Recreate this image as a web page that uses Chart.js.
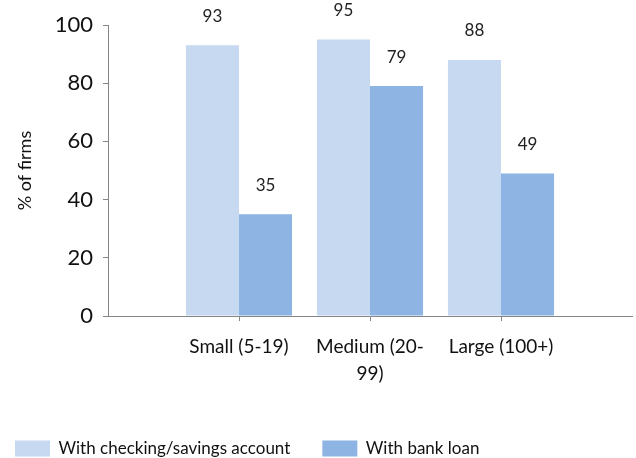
<!DOCTYPE html>
<html>
<head>
<meta charset="utf-8">
<script src="https://cdn.jsdelivr.net/npm/chart.js@4.4.1/dist/chart.umd.min.js"></script>
<style>
  html, body { margin: 0; padding: 0; background: #fff; }
</style>
</head>
<body>
<canvas id="chart" width="636" height="458"></canvas>
<script>
const categories = ["Small (5-19)", ["Medium (20-", "99)"], "Large (100+)"];
const checkingValues = [93, 95, 88];
const loanValues = [35, 79, 49];
const seriesNames = ["With checking/savings account", "With bank loan"];

const FONT = "Lato, 'Open Sans', sans-serif";
const AXIS = "#868686";

// empty slot on each side so the groups sit on the x grid positions
const pad = (arr) => [null, ...arr, null];

const valueLabels = {
  id: "valueLabels",
  afterDatasetsDraw(chart) {
    const ctx = chart.ctx;
    ctx.save();
    ctx.font = "17px " + FONT;
    ctx.fillStyle = "#222";
    ctx.textAlign = "center";
    ctx.textBaseline = "middle";
    chart.data.datasets.forEach((ds, i) => {
      chart.getDatasetMeta(i).data.forEach((bar, j) => {
        const v = ds.data[j];
        if (v == null) return;
        ctx.fillText(String(v), bar.x, bar.y - 29);
      });
    });
    ctx.restore();
  }
};

const legendPlace = {
  id: "legendPlace",
  afterLayout(chart) {
    const l = chart.legend;
    l.left = 15 - 32;
    l.top = 440 - 32;
  }
};

new Chart(document.getElementById("chart"), {
  type: "bar",
  data: {
    labels: ["", ...categories, ""],
    datasets: [
      { label: seriesNames[0], data: pad(checkingValues), backgroundColor: "#c6d9f1" },
      { label: seriesNames[1], data: pad(loanValues), backgroundColor: "#8eb4e3" }
    ]
  },
  options: {
    responsive: false,
    animation: false,
    layout: { padding: { top: 25, right: 4, left: 0, bottom: 0 } },
    datasets: { bar: { categoryPercentage: 0.81, barPercentage: 1 } },
    scales: {
      x: {
        offset: false,
        border: { color: AXIS },
        grid: {
          offset: false,
          drawOnChartArea: false,
          tickLength: 5,
          color: (c) => (c.index === 0 || c.index === 4 ? "rgba(0,0,0,0)" : AXIS)
        },
        ticks: {
          autoSkip: false,
          maxRotation: 0,
          color: "#111",
          padding: 12,
          font: { family: FONT, size: 19, lineHeight: 1.42 }
        },
        afterFit(scale) {
          scale.height = 83;
          scale.paddingLeft = 0;
          scale.paddingRight = 0;
        }
      },
      y: {
        min: 0,
        max: 100,
        border: { color: AXIS },
        grid: { drawOnChartArea: false, tickLength: 5, color: AXIS },
        ticks: {
          stepSize: 20,
          color: "#111",
          padding: 10,
          font: { family: FONT, size: 22 }
        },
        title: {
          display: true,
          text: "% of firms",
          color: "#111",
          padding: { top: 14, bottom: 0 },
          font: { family: FONT, size: 18 }
        },
        afterFit(scale) { scale.width = 108; }
      }
    },
    plugins: {
      legend: {
        position: "bottom",
        align: "start",
        labels: {
          boxWidth: 35,
          boxHeight: 16,
          padding: 32,
          color: "#111",
          font: { family: FONT, size: 17 }
        }
      },
      tooltip: { enabled: false }
    }
  },
  plugins: [valueLabels, legendPlace]
});
</script>
</body>
</html>
